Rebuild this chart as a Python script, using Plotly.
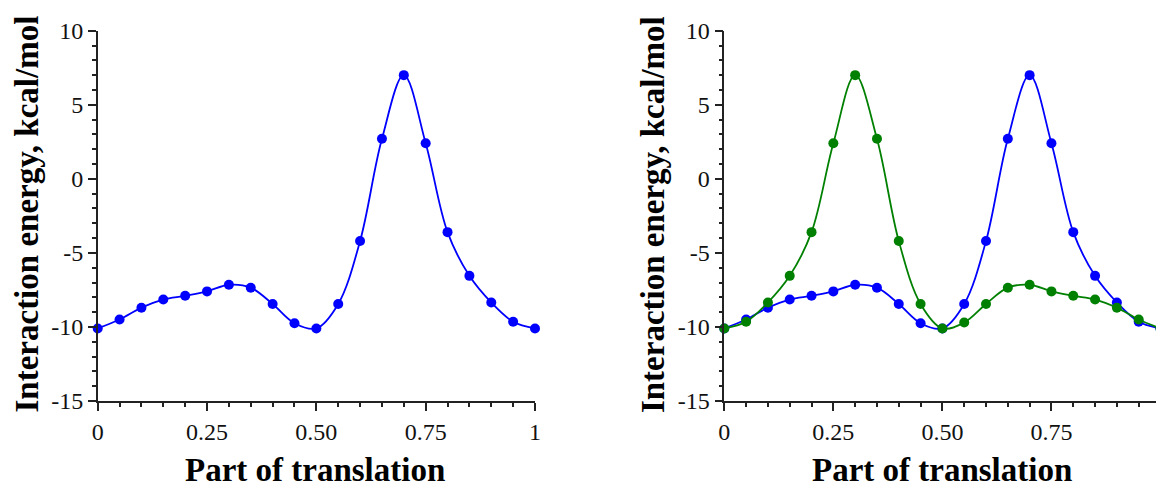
import plotly.graph_objects as go

# Data
x_part = [0.00, 0.05, 0.10, 0.15, 0.20, 0.25, 0.30, 0.35, 0.40, 0.45, 0.50,
          0.55, 0.60, 0.65, 0.70, 0.75, 0.80, 0.85, 0.90, 0.95, 1.00]
blue_energy = [-10.1, -9.5, -8.7, -8.15, -7.9, -7.6, -7.15, -7.35, -8.45, -9.75, -10.1,
               -8.45, -4.2, 2.7, 7.0, 2.4, -3.6, -6.55, -8.35, -9.65, -10.1]
green_energy = [-10.1, -9.65, -8.35, -6.55, -3.6, 2.4, 7.0, 2.7, -4.2, -8.45, -10.1,
                -9.7, -8.45, -7.35, -7.15, -7.6, -7.9, -8.15, -8.7, -9.5, -10.1]

x_tickvals = [0, 0.25, 0.5, 0.75, 1]
x_ticktext = ["0", "0.25", "0.50", "0.75", "1"]
y_tickvals = [-15, -10, -5, 0, 5, 10]
y_ticktext = ["-15", "-10", "-5", "0", "5", "10"]

x_title = "Part of translation"
y_title = "Interaction energy, kcal/mol"

BLUE = "#0000FF"
GREEN = "#008000"
FONT = "Liberation Serif, Times New Roman, serif"

# page body has an 8px margin; figure sized to fill the rest of the window
OFF = 8
W, H = 1164 - OFF, 482 - OFF


def px_x(px):
    return (px - OFF) / W


def px_y(py):
    return (H - (py - OFF)) / H


def trace(y, color, xa, ya):
    return go.Scatter(
        x=x_part, y=y, mode="lines+markers",
        line=dict(color=color, width=1.8, shape="spline", smoothing=1.0),
        marker=dict(color=color, size=10),
        xaxis=xa, yaxis=ya, cliponaxis=False, showlegend=False,
        hoverinfo="skip",
    )


fig = go.Figure()
fig.add_trace(trace(blue_energy, BLUE, "x", "y"))
fig.add_trace(trace(blue_energy, BLUE, "x2", "y2"))
fig.add_trace(trace(green_energy, GREEN, "x2", "y2"))

ydom = [px_y(401), px_y(30.7)]
xdom1 = [px_x(97.7), px_x(535)]
xdom2 = [px_x(724.3), px_x(1160.5)]

tickfont = dict(family=FONT, size=24, color="#111111")


def xaxis(domain, anchor):
    return dict(
        domain=domain, anchor=anchor, range=[0, 1], showgrid=False, zeroline=False,
        showline=True, linecolor="#222222", linewidth=1.5, automargin=False,
        ticks="outside", ticklen=8, tickwidth=1.5, tickcolor="#222222",
        tickvals=x_tickvals, ticktext=x_ticktext, tickfont=tickfont,
        ticklabeloverflow="allow",
        minor=dict(ticks="outside", ticklen=4, tickwidth=1.5, tickcolor="#222222",
                   dtick=0.05, tick0=0, showgrid=False),
        fixedrange=True,
    )


def yaxis(domain, anchor):
    return dict(
        domain=domain, anchor=anchor, range=[-15, 10], showgrid=False, zeroline=False,
        showline=True, linecolor="#222222", linewidth=1.5, automargin=False,
        ticks="outside", ticklen=8, tickwidth=1.5, tickcolor="#222222",
        tickvals=y_tickvals, ticktext=y_ticktext, tickfont=tickfont,
        ticklabeloverflow="allow",
        minor=dict(ticks="outside", ticklen=4, tickwidth=1.5, tickcolor="#222222",
                   dtick=1, tick0=0, showgrid=False),
        fixedrange=True,
    )


titlefont = dict(family=FONT, size=33, color="#000000")
annotations = []
for xc_px in (27, 27 + 626.6):
    annotations.append(dict(
        text="<b>" + y_title + "</b>", xref="paper", yref="paper",
        x=px_x(xc_px), y=px_y(214.5), xanchor="center", yanchor="middle",
        textangle=-90, showarrow=False, font=titlefont,
    ))
for xc_px in (314.5, 941.5):
    annotations.append(dict(
        text="<b>" + x_title + "</b>", xref="paper", yref="paper",
        x=px_x(xc_px), y=px_y(470), xanchor="center", yanchor="middle",
        showarrow=False, font=titlefont,
    ))

fig.update_layout(
    template="none",
    width=W, height=H,
    margin=dict(l=0, r=0, t=0, b=0, autoexpand=False),
    paper_bgcolor="white", plot_bgcolor="white",
    xaxis=xaxis(xdom1, "y"), yaxis=yaxis(ydom, "x"),
    xaxis2=xaxis(xdom2, "y2"), yaxis2=yaxis(ydom, "x2"),
    annotations=annotations,
    font=dict(family=FONT),
)

fig.write_html("out.html", config={"displayModeBar": False})
